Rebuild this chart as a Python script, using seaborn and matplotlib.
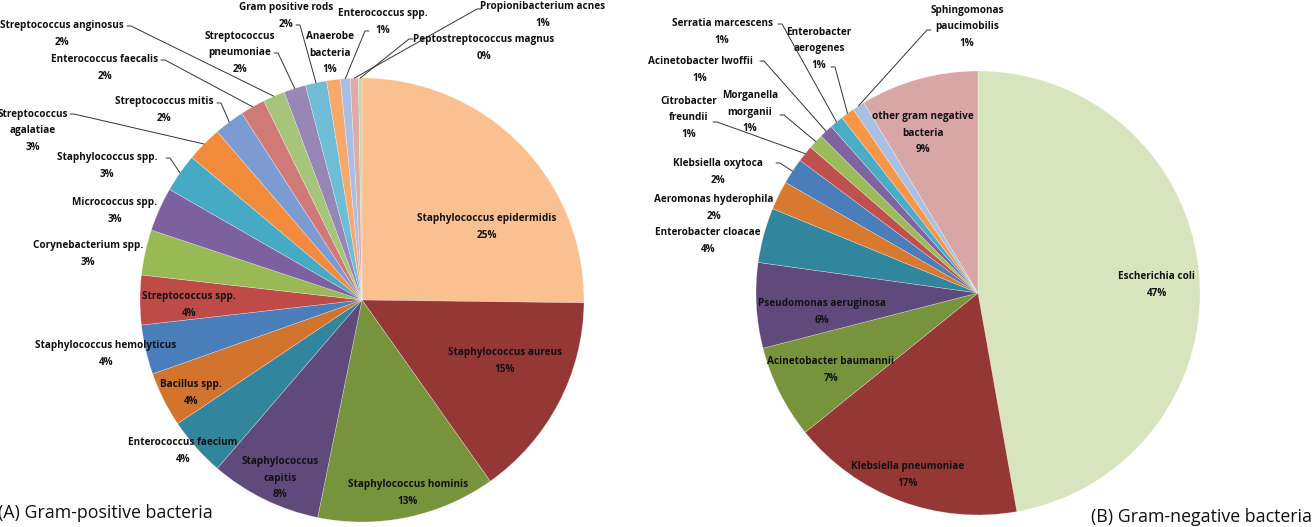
import numpy as np
import matplotlib
matplotlib.use("Agg")
import matplotlib.pyplot as plt
import seaborn as sns

# === Data: Gram-positive (clockwise from 12 o'clock) ===
pos_names = ["Staphylococcus epidermidis", "Staphylococcus aureus", "Staphylococcus hominis",
             "Staphylococcus\ncapitis", "Enterococcus faecium", "Bacillus spp.",
             "Staphylococcus hemolyticus", "Streptococcus spp.", "Corynebacterium spp.",
             "Micrococcus spp.", "Staphylococcus spp.", "Streptococcus\nagalatiae",
             "Streptococcus mitis", "Enterococcus faecalis", "Streptococcus anginosus",
             "Streptococcus\npneumoniae", "Gram positive rods", "Anaerobe\nbacteria",
             "Enterococcus spp.", "Propionibacterium acnes", "Peptostreptococcus magnus"]
pos_values = [25.2, 15.0, 13.0, 8.1, 4.3, 4.0, 3.6, 3.6, 3.3, 3.2, 2.8, 2.6,
              2.2, 1.8, 1.6, 1.6, 1.55, 1.0, 0.7, 0.6, 0.25]
pos_colors = ["#FAC090", "#953735", "#77933C", "#604A7B", "#31859C", "#D2732E",
              "#4A7EBB", "#BE4B48", "#98B954", "#7D60A0", "#46AAC5", "#F38B3C",
              "#7C9BD2", "#D07A78", "#A6C47A", "#9787B6", "#6EBCD6", "#F9A86B",
              "#A9BEE3", "#DDAAA9", "#C5D7A3"]

# === Data: Gram-negative ===
neg_names = ["Escherichia coli", "Klebsiella pneumoniae", "Acinetobacter baumannii",
             "Pseudomonas aeruginosa", "Enterobacter cloacae", "Aeromonas hyderophila",
             "Klebsiella oxytoca", "Citrobacter\nfreundii", "Morganella\nmorganii",
             "Acinetobacter lwoffii", "Serratia marcescens", "Enterobacter\naerogenes",
             "Sphingomonas\npaucimobilis", "other gram negative\nbacteria"]
neg_values = [47.2, 17.0, 6.8, 6.2, 4.0, 2.1, 1.9, 1.2, 1.1, 1.0, 1.0, 1.0, 0.9, 8.6]
neg_colors = ["#D7E4BD", "#953735", "#77933C", "#604A7B", "#31859C", "#D9792F",
              "#4A7EBB", "#C0504D", "#9BBB59", "#8064A2", "#4BACC6", "#F79646",
              "#A9C0E3", "#D9A6A6"]

# === Layout (figure pixels, origin top-left) ===
W, H = 1314, 527
pos_center, neg_center, R = (362, 300), (978, 293), 222

pos_label_xy = [(487, 227), (505, 361), (408, 493), (280, 478), (183, 451), (191, 393),
                (106, 354), (189, 305), (88, 254), (115, 211), (107, 166), (33, 131),
                (164, 110), (105, 68), (62, 34), (240, 53), (286, 16), (330, 53),
                (383, 22), (543, 15), (484, 48)]
# leader line: index -> (anchor px, stub direction)
pos_leaders = {10: ((166, 158), 1), 11: ((70, 114), 1), 12: ((217, 103), 1),
               13: ((161, 60), 1), 14: ((127, 26), 1), 15: ((274, 53), 1),
               16: ((296, 25), 1), 18: ((369, 31), -1), 19: ((481, 9), -1),
               20: ((413, 39), -1)}

neg_label_xy = [(1157, 285), (908, 475), (831, 370), (822, 312), (708, 241), (714, 208),
                (718, 172), (689, 118), (750, 112), (700, 70), (722, 32), (819, 49),
                (967, 27), (923, 133)]
neg_leaders = {6: ((776, 163), 1), 7: ((713, 122), 1), 8: ((780, 115), 1),
               9: ((760, 61), 1), 10: ((778, 24), 1), 11: ((831, 67), 1),
               12: ((931, 30), -1)}

sns.set_theme(style="white")
plt.rcParams['font.family'] = ['Open Sans', 'DejaVu Sans']

fig = plt.figure(figsize=(W / 100, H / 100), dpi=100)
ax = fig.add_axes([0, 0, 1, 1])


def to_data(p):
    return p[0], H - p[1]


def draw_pie(values, names, colors, center, label_xy, leaders):
    c = to_data(center)
    wedges, _ = ax.pie(values, colors=colors, startangle=90, counterclock=False,
                       center=c, radius=R,
                       wedgeprops=dict(edgecolor=(1, 1, 1, 0.45), linewidth=0.4))
    total = sum(values)
    for i, (w, name, v) in enumerate(zip(wedges, names, values)):
        pct = int(v / total * 100 + 0.5)
        x, y = to_data(label_xy[i])
        ax.text(x, y, f"{name}\n{pct}%", ha="center", va="center", ma="center",
                fontsize=7.2, fontweight="bold", color="#111111", linespacing=1.65)
        if i in leaders:
            (ax0, ay0), d = leaders[i]
            ax0, ay0 = to_data((ax0, ay0))
            mid = np.deg2rad((w.theta1 + w.theta2) / 2)
            rx = c[0] + R * np.cos(mid)
            ry = c[1] + R * np.sin(mid)
            ax.plot([ax0, ax0 + 4 * d, rx], [ay0, ay0, ry], color="#333333", lw=0.7)


draw_pie(pos_values, pos_names, pos_colors, pos_center, pos_label_xy, pos_leaders)
draw_pie(neg_values, neg_names, neg_colors, neg_center, neg_label_xy, neg_leaders)

ax.text(-2, H - 513, "(A) Gram-positive bacteria", ha="left", va="center",
        fontsize=12.8, color="#111111")
ax.text(1312, H - 517, "(B) Gram-negative bacteria", ha="right", va="center",
        fontsize=12.8, color="#111111")

ax.set_xlim(0, W)
ax.set_ylim(0, H)
ax.set_aspect("equal")
ax.axis("off")

fig.savefig("out.png", dpi=100)
